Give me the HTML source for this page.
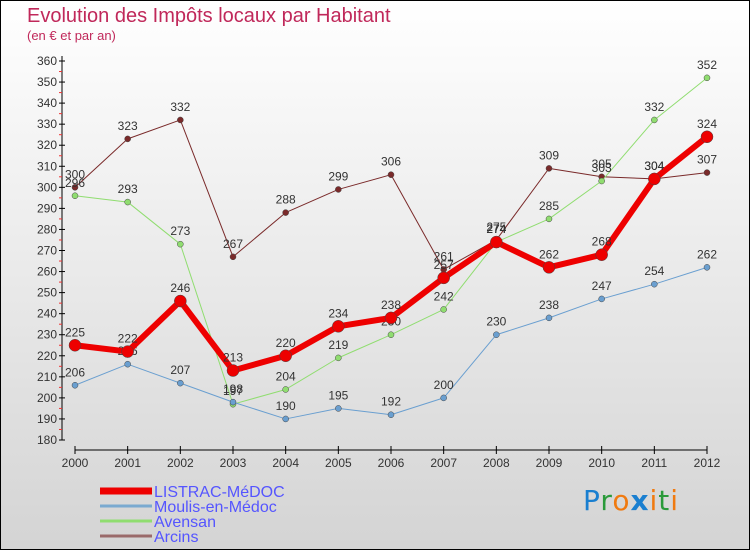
<!DOCTYPE html>
<html><head><meta charset="utf-8"><style>
body{margin:0}
#c{position:relative;width:748px;height:548px;border:1px solid #000;background:linear-gradient(#fff,#d4d4d4);font-family:"Liberation Sans",sans-serif;overflow:hidden}
.t{position:absolute;color:#c0285a}
</style></head><body>
<div id="c">
<div class="t" style="left:26px;top:4px;font-size:20px">Evolution des Impôts locaux par Habitant</div>
<div class="t" style="left:26px;top:27px;font-size:13px">(en € et par an)</div>
<svg id="s" width="750" height="550" style="position:absolute;left:-1px;top:-1px"></svg>
<div style="position:absolute;left:582px;top:483px;font-size:28px;font-family:'DejaVu Sans',sans-serif;letter-spacing:1px"><span style="color:#1a7fd0">P</span><span style="color:#2a9a3a">r</span><span style="color:#f07a10">o</span><span style="color:#1a7fd0;font-weight:bold">x</span><span style="color:#f07a10">i</span><span style="color:#2a9a3a">t</span><span style="color:#f07a10">i</span></div>
</div>
<script>
const years=[2000,2001,2002,2003,2004,2005,2006,2007,2008,2009,2010,2011,2012];
const listrac=[225,222,246,213,220,234,238,257,274,262,268,304,324];
const moulis=[206,216,207,198,190,195,192,200,230,238,247,254,262];
const avensan=[296,293,273,197,204,219,230,242,274,285,303,332,352];
const arcins=[300,323,332,267,288,299,306,261,275,309,305,304,307];
const yTicks=[180,190,200,210,220,230,240,250,260,270,280,290,300,310,320,330,340,350,360];
const names=["LISTRAC-MéDOC","Moulis-en-Médoc","Avensan","Arcins"];
const NS="http://www.w3.org/2000/svg",s=document.getElementById('s');
const x=i=>75+i*(707-75)/12, y=v=>440-(v-180)*(440-61)/180;
function el(t,a,p){const e=document.createElementNS(NS,t);for(const k in a)e.setAttribute(k,a[k]);(p||s).appendChild(e);return e;}
let e;
e=el('line',{x1:62,y1:56,x2:62,y2:440,stroke:'#000'});


e=el('line',{x1:75,y1:450,x2:707,y2:450,stroke:'#000'});


yTicks.forEach(v=>{
 el('line',{x1:59,x2:65,y1:y(v),y2:y(v),stroke:'#000'});
 if(v<360)el('line',{x1:59,x2:62,y1:y(v+5),y2:y(v+5),stroke:'#e33'});
 const t=el('text',{x:57,y:y(v)+4,'text-anchor':'end','font-size':12,fill:'#333'});t.textContent=v;
 
 
});
years.forEach((yr,i)=>{
 el('line',{x1:x(i),x2:x(i),y1:446,y2:454,stroke:'#000'});
 const t=el('text',{x:x(i),y:467,'text-anchor':'middle','font-size':12,fill:'#333'});t.textContent=yr;
 
 
});
const series=[
 {d:arcins,c:'#7a2a2a',w:1,r:3,n:'arcins'},
 {d:avensan,c:'#90dd70',w:1,r:3,n:'avensan'},
 {d:moulis,c:'#6a9fd0',w:1,r:3,n:'moulis'},
 {d:listrac,c:'#ee0000',w:6,r:6,n:'listrac'}];
series.forEach(S=>{
 const g=el('g',{});
 
 
 const l=el('polyline',{points:S.d.map((v,i)=>x(i)+','+y(v)).join(' '),fill:'none',stroke:S.c,'stroke-width':S.w,'stroke-linejoin':'round'},g);
 
 
 S.d.forEach((v,i)=>{
  const c=el('circle',{cx:x(i),cy:y(v),r:S.r,fill:S.c,stroke:'#444','stroke-width':0.5},g);
  
  
  const t=el('text',{x:x(i),y:y(v)-9,'text-anchor':'middle','font-size':12,fill:'#333'},g);t.textContent=v;
  
  
 });
});
const lc=['#ee0000','#7aaad0','#90dd70','#9a6a6a'],lw=[7,3,3,3];
names.forEach((n,i)=>{
 const ly=491+i*15;
 const l=el('line',{x1:100,x2:152,y1:ly,y2:ly,stroke:lc[i],'stroke-width':lw[i]});
 
 
 const t=el('text',{x:154,y:ly+6,'font-size':16,fill:'#5555ff'});t.textContent=n;
 
 
});
</script>
</body></html>
